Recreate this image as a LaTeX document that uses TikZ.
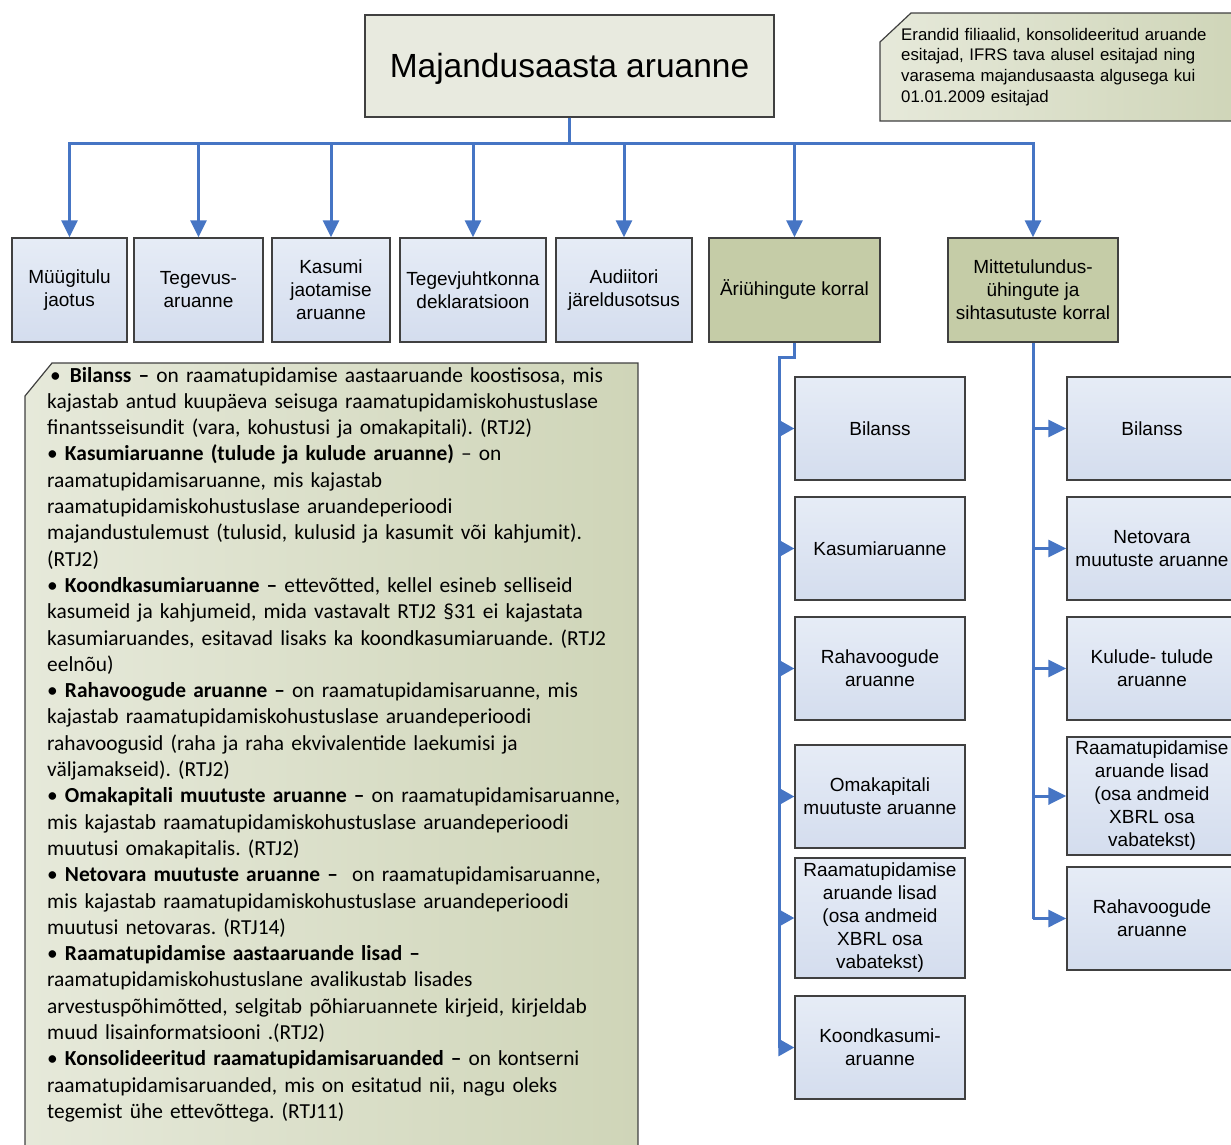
\documentclass[tikz,border=0pt]{standalone}
\usepackage{fontspec}
\setmainfont{Liberation Sans}
\newfontfamily\calibri{Carlito}
\usetikzlibrary{arrows.meta}
\frenchspacing

\definecolor{conn}{HTML}{4675C4}
\definecolor{edge}{HTML}{404040}
\definecolor{bluelight}{HTML}{E6ECF6}
\definecolor{bluedark}{HTML}{D4DDEE}
\definecolor{olive}{HTML}{C5CCA7}
\definecolor{titlefill}{HTML}{E8EADF}
\definecolor{notelight}{HTML}{E6E9DA}
\definecolor{notedark}{HTML}{CFD5B8}

\tikzset{
  box/.style={draw=edge, line width=1.3pt, inner sep=2pt, align=center,
    font=\fontsize{19}{23}\selectfont},
  bluebox/.style={box, top color=bluelight, bottom color=bluedark},
  greenbox/.style={box, fill=olive},
  wire/.style={draw=conn, line width=3pt},
  droparrow/.style={wire, -{Triangle[length=17pt,width=16pt]}},
  sidetip/.style={wire, -{Triangle[length=16pt,width=17pt]}},
  sidearrow/.style={wire, -{Triangle[length=18pt,width=17pt]}},
  notebox/.style={draw=edge, line width=1.2pt, left color=notelight, right color=notedark},
}

\begin{document}
\begin{tikzpicture}[x=1pt, y=-1pt]
\useasboundingbox (0,0) rectangle (1231,1144);

% title
\node[box, fill=titlefill, minimum width=409, minimum height=102, text depth=2pt,
  font=\fontsize{33.5}{40}\selectfont] (title) at (569.5,66) {Majandusaasta aruanne};

% exceptions note
\path[notebox] (880,121) -- (880,42) -- (911,13) -- (1240,13) -- (1240,121) -- cycle;
\node[anchor=base west, inner sep=0, text width=340pt, align=left,
  font=\fontsize{16.8}{20.7}\selectfont] (note) at (901,40)
  {Erandid filiaalid, konsolideeritud aruande\\
   esitajad, IFRS tava alusel esitajad ning\\
   varasema majandusaasta algusega kui\\
   01.01.2009 esitajad};

% first level
\node[bluebox, minimum width=115, minimum height=104] (b1) at (69.5,290) {Müügitulu\\jaotus};
\node[bluebox, minimum width=129, minimum height=104] (b2) at (198.5,290) {Tegevus-\\aruanne};
\node[bluebox, minimum width=118, minimum height=104] (b3) at (331,290) {Kasumi\\jaotamise\\aruanne};
\node[bluebox, minimum width=146, minimum height=104] (b4) at (473,290) {Tegevjuhtkonna\\deklaratsioon};
\node[bluebox, minimum width=136, minimum height=104] (b5) at (624,290) {Audiitori\\järeldusotsus};
\node[greenbox, minimum width=171, minimum height=104] (ar) at (794.5,290) {Äriühingute korral};
\node[greenbox, minimum width=170, minimum height=104] (mt) at (1033,290) {Mittetulundus-\\ühingute ja\\sihtasutuste korral};

\coordinate (bus) at (0,143);
\foreach \c in {b1,b2,b3,b4,b5,ar,mt}
  \draw[droparrow] (title.south) -- (title.south |- bus) -| (\c.north);

% companies
\node[bluebox, minimum width=170, minimum height=103] (a1) at (880,428.5) {Bilanss};
\node[bluebox, minimum width=170, minimum height=103] (a2) at (880,548.5) {Kasumiaruanne};
\node[bluebox, minimum width=170, minimum height=103] (a3) at (880,668.5) {Rahavoogude\\aruanne};
\node[bluebox, minimum width=170, minimum height=103] (a4) at (880,796.5) {Omakapitali\\muutuste aruanne};
\node[bluebox, minimum width=170, minimum height=120] (a5) at (880,918) {Raamatupidamise\\aruande lisad\\(osa andmeid\\XBRL osa\\vabatekst)};
\node[bluebox, minimum width=170, minimum height=103] (a6) at (880,1047.5) {Koondkasumi-\\aruanne};

\coordinate (aj) at (779,357);
\draw[wire] (ar.south) |- (aj) -- (aj |- a6.west);
\foreach \c in {a1,a2,a3,a4,a5,a6}
  \draw[sidetip] (aj |- \c.west) -- (\c.west);

% non-profits and foundations
\node[bluebox, minimum width=170, minimum height=103] (r1) at (1152,428.5) {Bilanss};
\node[bluebox, minimum width=170, minimum height=103] (r2) at (1152,548.5) {Netovara\\muutuste aruanne};
\node[bluebox, minimum width=170, minimum height=103] (r3) at (1152,668.5) {Kulude- tulude\\aruanne};
\node[bluebox, minimum width=170, minimum height=118] (r4) at (1152,796) {Raamatupidamise\\aruande lisad\\(osa andmeid\\XBRL osa\\vabatekst)};
\node[bluebox, minimum width=170, minimum height=103] (r5) at (1152,918.5) {Rahavoogude\\aruanne};

\draw[wire] (mt.south) -- (mt.south |- r5.west);
\foreach \c in {r1,r2,r3,r4,r5}
  \draw[sidearrow] (mt.south |- \c.west) -- (\c.west);

% definitions
\path[notebox] (25,1150) -- (25,396) -- (52,363) -- (638,363) -- (638,1150) -- cycle;
\node[anchor=base west, inner sep=0, text width=700pt, align=left,
  font=\calibri\fontsize{21.4}{26.3}\selectfont] (defs) at (47,382)
  {\hspace*{3pt}•\hspace{9pt}\textbf{Bilanss –} on raamatupidamise aastaaruande koostisosa, mis\\
   kajastab antud kuupäeva seisuga raamatupidamiskohustuslase\\
   finantsseisundit (vara, kohustusi ja omakapitali). (RTJ2)\\
   • \textbf{Kasumiaruanne (tulude ja kulude aruanne)} – on\\
   raamatupidamisaruanne, mis kajastab\\
   raamatupidamiskohustuslase aruandeperioodi\\
   majandustulemust (tulusid, kulusid ja kasumit või kahjumit).\\
   (RTJ2)\\
   • \textbf{Koondkasumiaruanne –} ettevõtted, kellel esineb selliseid\\
   kasumeid ja kahjumeid, mida vastavalt RTJ2 §31 ei kajastata\\
   kasumiaruandes, esitavad lisaks ka koondkasumiaruande. (RTJ2\\
   eelnõu)\\
   • \textbf{Rahavoogude aruanne –} on raamatupidamisaruanne, mis\\
   kajastab raamatupidamiskohustuslase aruandeperioodi\\
   rahavoogusid (raha ja raha ekvivalentide laekumisi ja\\
   väljamakseid). (RTJ2)\\
   • \textbf{Omakapitali muutuste aruanne –} on raamatupidamisaruanne,\\
   mis kajastab raamatupidamiskohustuslase aruandeperioodi\\
   muutusi omakapitalis. (RTJ2)\\
   • \textbf{Netovara muutuste aruanne –}\ \ on raamatupidamisaruanne,\\
   mis kajastab raamatupidamiskohustuslase aruandeperioodi\\
   muutusi netovaras. (RTJ14)\\
   • \textbf{Raamatupidamise aastaaruande lisad –}\\
   raamatupidamiskohustuslane avalikustab lisades\\
   arvestuspõhimõtted, selgitab põhiaruannete kirjeid, kirjeldab\\
   muud lisainformatsiooni .(RTJ2)\\
   • \textbf{Konsolideeritud raamatupidamisaruanded –} on kontserni\\
   raamatupidamisaruanded, mis on esitatud nii, nagu oleks\\
   tegemist ühe ettevõttega. (RTJ11)};
\end{tikzpicture}
\end{document}
